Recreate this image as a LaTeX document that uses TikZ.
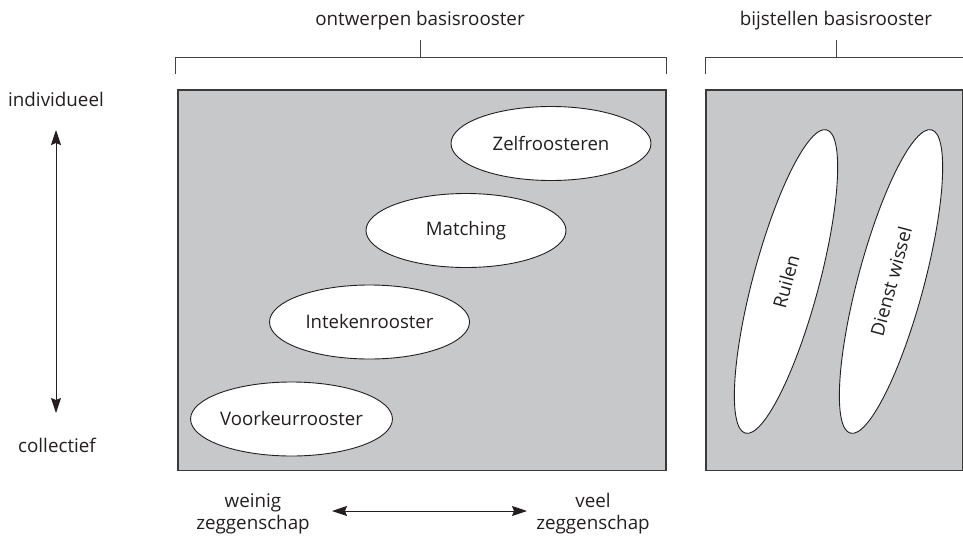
\documentclass[tikz,border=0pt]{standalone}
\usepackage{fontspec}
\setmainfont{Open Sans}
\usetikzlibrary{arrows.meta,shapes.geometric}
\definecolor{panel}{HTML}{C7C8CA}
\definecolor{ink}{HTML}{231F20}
\definecolor{frame}{HTML}{3A3A3A}
\begin{document}
\begin{tikzpicture}[x=1pt,y=-1pt,
  txt/.style={font=\fontsize{18.8}{22}\selectfont, text=ink, inner sep=0pt, align=center},
  panelbox/.style={draw=frame, line width=1.2pt, fill=panel},
  bubble/.style={ellipse, draw=ink, line width=0.9pt, fill=white, font=\fontsize{18.6}{22}\selectfont, text=ink, inner sep=0pt, minimum width=200pt, minimum height=74pt},
  slantbubble/.style={bubble, minimum width=314pt, minimum height=66pt, rotate=75},
  bracketline/.style={draw=ink!85, line width=1pt},
  axis/.style={draw=ink, line width=1pt, {Stealth[length=15pt,width=10pt,inset=2pt]}-{Stealth[length=15pt,width=10pt,inset=2pt]}}
]
\useasboundingbox (0,0) rectangle (963,538);

% panels
\path[panelbox] (178,90) rectangle (666,470.5);
\path[panelbox] (706,90) rectangle (962.3,470.5);

% brackets
\draw[bracketline] (175.5,74) -- (175.5,57) -- (666.5,57) -- (666.5,74);
\draw[bracketline] (420,40) -- (420,57);
\draw[bracketline] (705,74) -- (705,57) -- (963,57);
\draw[bracketline] (836,40) -- (836,57);

% headings
\node[txt, anchor=base] (h1) at (420,25) {ontwerpen basisrooster};
\node[txt, anchor=base] (h2) at (836,25) {bijstellen basisrooster};

% left axis
\node[txt, anchor=base] (ind) at (56,106) {individueel};
\node[txt, anchor=base] (col) at (57,452) {collectief};
\coordinate (vtop) at (56,130);
\coordinate (vbot) at (56,413);
\draw[axis] (vtop) -- (vbot);

% bottom axis
\node[txt, anchor=base] (wein) at (253,529) {weinig\\zeggenschap};
\node[txt, anchor=base] (veel) at (593,529) {veel\\zeggenschap};
\coordinate (hl) at (332,511);
\coordinate (hr) at (527,511);
\draw[axis] (hl) -- (hr);

% ellipses left panel
\node[bubble] (zelf) at (551,143.5) {Zelfroosteren};
\node[bubble] (match) at (466,230.5) {Matching};
\node[bubble] (inteken) at (369.5,322) {Intekenrooster};
\node[bubble] (voork) at (291.5,419) {Voorkeurrooster};

% ellipses right panel
\node[slantbubble] (ruil) at (786,281.5) {Ruilen};
\node[slantbubble] (dienst) at (891,281.5) {Dienst wissel};
\end{tikzpicture}
\end{document}
